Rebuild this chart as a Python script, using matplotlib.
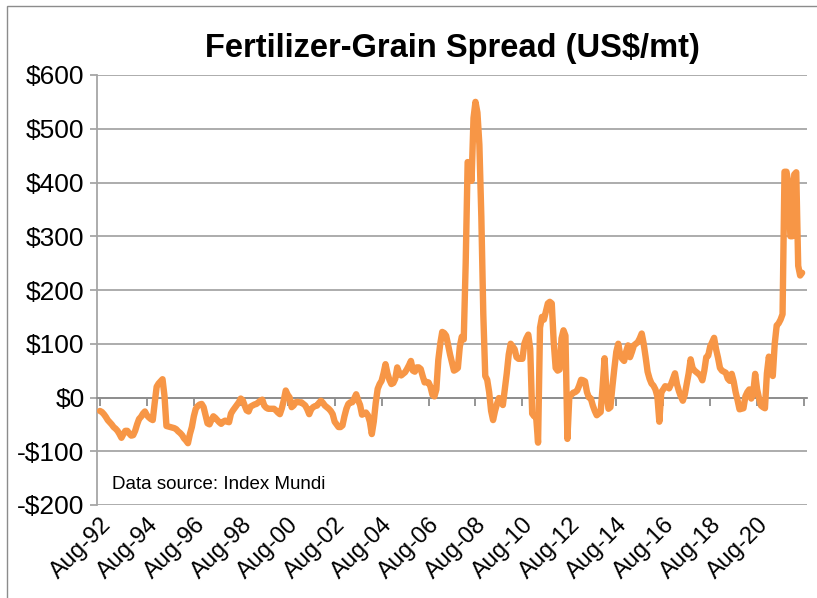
import numpy as np
import matplotlib
matplotlib.use("Agg")
import matplotlib.pyplot as plt
from matplotlib.patches import Rectangle

# monthly spread, US$/mt, Aug-92 .. Jul-22 (one row per Aug-Jul year)
spread_rows = [
    [-25, -27, -31, -36, -42, -46, -50, -55, -58, -62, -68, -75],
    [-68, -62, -62, -67, -71, -70, -62, -50, -40, -36, -30, -26],
    [-33, -37, -40, -42, -10, 20, 26, 30, 34, 3, -53, -54],
    [-55, -56, -57, -59, -63, -66, -70, -76, -80, -85, -68, -55],
    [-35, -21, -16, -13, -12, -18, -33, -48, -50, -42, -35, -38],
    [-42, -46, -49, -45, -43, -45, -46, -30, -24, -19, -14, -9],
    [-2, -5, -15, -24, -26, -17, -15, -13, -12, -9, -6, -4],
    [-15, -19, -21, -21, -21, -21, -24, -28, -31, -20, -5, 13],
    [5, 0, -18, -15, -9, -8, -9, -9, -12, -15, -22, -31],
    [-22, -18, -16, -15, -10, -6, -10, -15, -18, -21, -25, -31],
    [-45, -50, -55, -55, -52, -35, -21, -12, -9, -9, -2, 6],
    [-5, -14, -32, -30, -28, -33, -45, -68, -45, -10, 16, 25],
    [31, 45, 62, 45, 33, 25, 27, 35, 56, 46, 41, 44],
    [47, 53, 60, 68, 50, 48, 56, 56, 53, 40, 28, 29],
    [28, 20, 5, 2, 15, 70, 100, 122, 120, 115, 98, 80],
    [65, 50, 52, 55, 95, 113, 108, 250, 438, 437, 403, 520],
    [550, 530, 470, 336, 155, 40, 33, 10, -25, -42, -25, -12],
    [-1, -8, -14, 15, 45, 80, 100, 95, 90, 75, 72, 72],
    [72, 100, 110, 117, 90, -30, -35, -35, -84, 130, 150, 145],
    [160, 175, 178, 175, 103, 55, 50, 52, 110, 125, 115, -77],
    [3, 5, 9, 10, 13, 22, 33, 32, 30, 10, 0, -2],
    [-15, -25, -33, -30, -27, 20, 73, 8, -21, -18, 20, 54],
    [85, 100, 79, 72, 68, 85, 97, 75, 85, 97, 100, 103],
    [110, 119, 100, 75, 48, 35, 26, 22, 15, 2, -45, 10],
    [15, 21, 20, 17, 25, 35, 45, 25, 12, 2, -6, 5],
    [25, 45, 71, 55, 50, 47, 44, 40, 32, 50, 75, 78],
    [95, 103, 111, 90, 74, 55, 50, 48, 46, 35, 31, 44],
    [30, 10, -5, -22, -21, -20, 2, 10, 15, -2, 8, 44],
    [15, -2, -15, -18, -20, 45, 76, 50, 40, 100, 134, 138],
    [145, 155, 420, 420, 400, 300, 300, 415, 419, 245, 227, 232],
]
spread = np.concatenate([np.array(r, dtype=float) for r in spread_rows])
months = np.arange(len(spread))

tick_labels = ["Aug-92", "Aug-94", "Aug-96", "Aug-98", "Aug-00", "Aug-02",
               "Aug-04", "Aug-06", "Aug-08", "Aug-10", "Aug-12", "Aug-14",
               "Aug-16", "Aug-18", "Aug-20"]
y_ticks = [-200, -100, 0, 100, 200, 300, 400, 500, 600]

orange = "#F79646"
grid_col = "#A6A6A6"
font = ["Liberation Sans", "DejaVu Sans"]

fig = plt.figure(figsize=(8.17, 5.98), dpi=100)
fig.patches.append(Rectangle((7 / 817, -0.1), 1.2, 1 - 6 / 598 + 0.1,
                             transform=fig.transFigure, fill=False,
                             edgecolor="#8C8C8C", linewidth=1.0))
ax = fig.add_axes([97 / 817, 1 - 505 / 598, 710 / 817, 430 / 598])

ax.plot(months, spread, color=orange, linewidth=4.6, solid_joinstyle="round",
        solid_capstyle="round", zorder=3)

ax.set_ylim(-200, 600)
ax.set_xlim(-1.5, 361.5)
ax.set_yticks(y_ticks)
ax.set_yticklabels([f"-${-v}" if v < 0 else f"${v}" for v in y_ticks],
                   family=font, fontsize=19)
ax.yaxis.grid(True, color=grid_col, linewidth=1.3)
ax.set_axisbelow(True)

for s in ["top", "right"]:
    ax.spines[s].set_visible(False)
ax.spines["left"].set_color(grid_col)
ax.spines["left"].set_linewidth(1.3)
ax.spines["bottom"].set_position(("data", 0))
ax.spines["bottom"].set_color("#8C8C8C")
ax.spines["bottom"].set_linewidth(1.3)
ax.tick_params(axis="y", length=5, color=grid_col, width=1.3, pad=4)

tick_pos = list(np.arange(len(tick_labels) + 1) * 24)
ax.set_xticks(tick_pos)
ax.tick_params(axis="x", length=6, color="#8C8C8C", width=1.3,
               labelbottom=False)

sec = ax.secondary_xaxis(0.0)
sec.set_xticks(tick_pos[:-1])
sec.set_xticklabels(tick_labels, rotation=45, ha="right", va="top",
                    rotation_mode="anchor", family=font, fontsize=17)
sec.tick_params(length=0, pad=6)
sec.spines["bottom"].set_visible(False)

ax.set_title("Fertilizer-Grain Spread (US$/mt)", family=font, fontsize=23.5,
             fontweight="bold", pad=13)
ax.text(0.021, 0.027, "Data source: Index Mundi", transform=ax.transAxes,
        family=font, fontsize=13.5, ha="left", va="bottom")

fig.savefig("out.png", dpi=100)
